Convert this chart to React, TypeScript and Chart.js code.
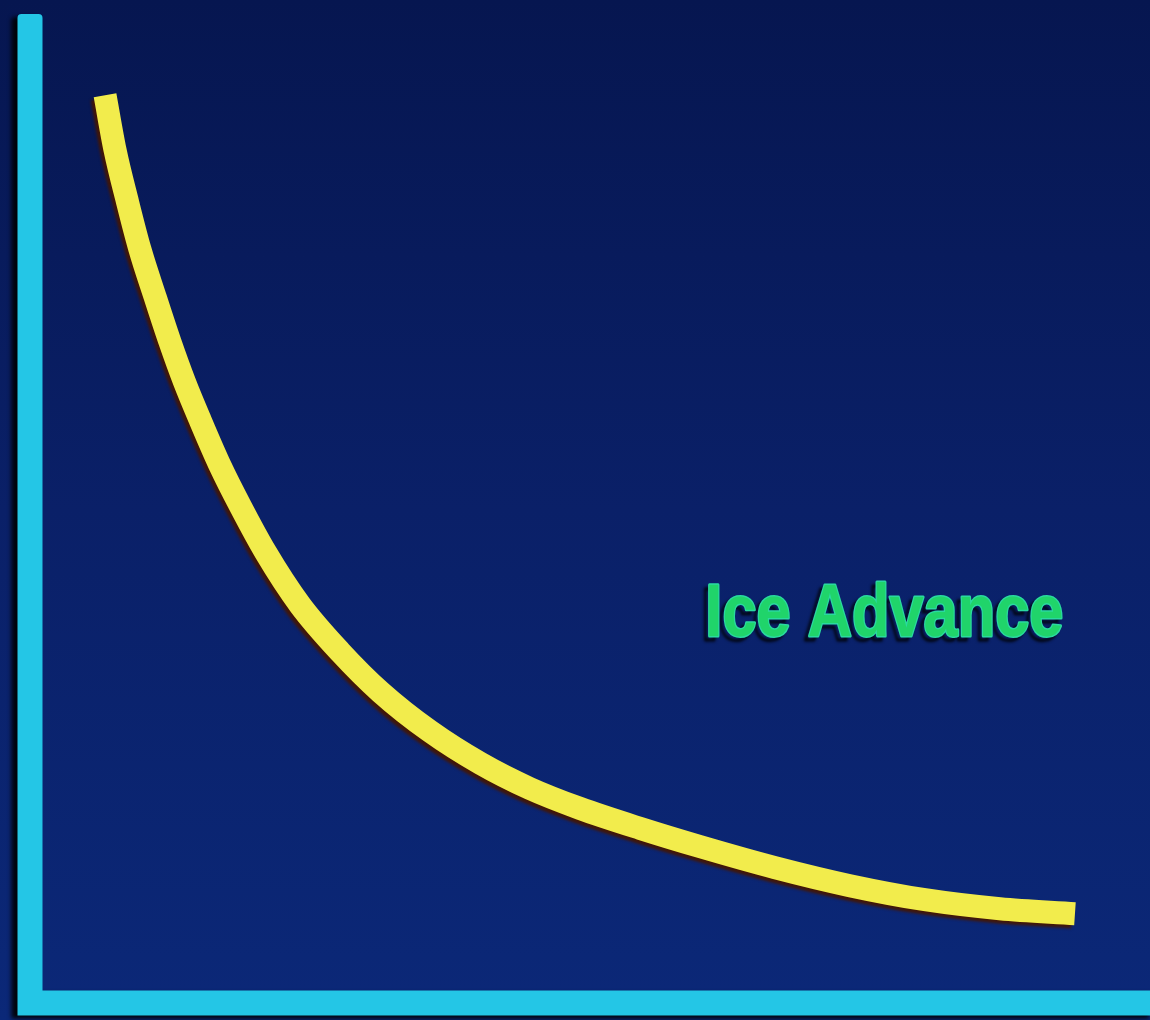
import React, { useEffect, useRef } from "react";
import { Chart, registerables } from "chart.js";

Chart.register(...registerables);

// Data (abstract units: time on x, ice extent on y, both 0..100)
const timeValues = [
  6.7, 7.6, 8.7, 9.8, 11.2, 12.5, 13.8, 15.2, 17.0, 18.8, 21.0, 24.1, 27.7,
  31.3, 35.7, 40.2, 44.6, 49.1, 54.5, 59.8, 66.5, 73.2, 79.9, 86.6, 93.3,
];
const iceValues = [
  90.5, 85.0, 79.9, 75.2, 70.3, 65.9, 61.9, 58.1, 53.5, 49.5, 45.0, 39.7, 35.0,
  31.0, 27.1, 23.9, 21.4, 19.4, 17.4, 15.6, 13.5, 11.7, 10.3, 9.4, 8.9,
];
const seriesLabel = "Ice Advance";

const W = 1150;
const H = 1020;

const backgroundPlugin = {
  id: "slideBackground",
  beforeDraw(chart: any) {
    const { ctx } = chart;
    ctx.save();
    const g = ctx.createLinearGradient(0, 0, 0, chart.height);
    g.addColorStop(0, "#061650");
    g.addColorStop(0.5, "#0a2068");
    g.addColorStop(1, "#0b2878");
    ctx.fillStyle = g;
    ctx.fillRect(0, 0, chart.width, chart.height);
    ctx.restore();
  },
};

const axesPlugin = {
  id: "cyanAxes",
  beforeDatasetsDraw(chart: any) {
    const { ctx } = chart;
    const xs = chart.scales.x;
    const ys = chart.scales.y;
    const x0 = xs.getPixelForValue(0);
    const y0 = ys.getPixelForValue(0);
    const yTop = ys.getPixelForValue(98.6);
    const half = 12.5;
    ctx.save();
    ctx.shadowColor = "rgba(0,0,0,0.9)";
    ctx.shadowOffsetX = -6;
    ctx.shadowOffsetY = 3;
    ctx.shadowBlur = 4;
    ctx.fillStyle = "#24c6e6";
    ctx.beginPath();
    const r = 4;
    ctx.moveTo(x0 - half, yTop + r);
    ctx.quadraticCurveTo(x0 - half, yTop, x0 - half + r, yTop);
    ctx.lineTo(x0 + half - r, yTop);
    ctx.quadraticCurveTo(x0 + half, yTop, x0 + half, yTop + r);
    ctx.lineTo(x0 + half, y0 - half);
    ctx.lineTo(chart.width + 5, y0 - half);
    ctx.lineTo(chart.width + 5, y0 + half);
    ctx.lineTo(x0 - half, y0 + half);
    ctx.closePath();
    ctx.fill();
    ctx.restore();
  },
};

const lineShadowPlugin = {
  id: "lineShadow",
  beforeDatasetDraw(chart: any) {
    const { ctx } = chart;
    ctx.save();
    ctx.shadowColor = "rgba(70,22,0,0.95)";
    ctx.shadowOffsetX = -3;
    ctx.shadowOffsetY = 3;
    ctx.shadowBlur = 3;
  },
  afterDatasetDraw(chart: any) {
    chart.ctx.restore();
  },
};

const labelPlugin = {
  id: "seriesLabel",
  afterDatasetsDraw(chart: any) {
    const { ctx } = chart;
    const xs = chart.scales.x;
    const ys = chart.scales.y;
    const px = xs.getPixelForValue(60.3);
    const py = ys.getPixelForValue(36.6);
    const targetWidth = 358;
    ctx.save();
    ctx.font = "bold 74px 'Liberation Sans', Arial, sans-serif";
    ctx.textBaseline = "alphabetic";
    ctx.textAlign = "left";
    const w = ctx.measureText(seriesLabel).width;
    const sx = targetWidth / w;
    ctx.translate(px, py);
    ctx.scale(sx, 1);
    ctx.shadowColor = "rgba(0,0,0,0.9)";
    ctx.shadowOffsetX = -4;
    ctx.shadowOffsetY = 4;
    ctx.shadowBlur = 3;
    ctx.lineJoin = "round";
    ctx.lineWidth = 3;
    ctx.strokeStyle = "#2ad9a0";
    ctx.strokeText(seriesLabel, 0, 0);
    ctx.shadowColor = "transparent";
    ctx.fillStyle = "#20d46a";
    ctx.fillText(seriesLabel, 0, 0);
    ctx.restore();
  },
};

export default function App() {
  const canvasRef = useRef<HTMLCanvasElement | null>(null);

  useEffect(() => {
    const canvas = canvasRef.current;
    if (!canvas) return;
    const chart = new Chart(canvas, {
      type: "line",
      data: {
        datasets: [
          {
            label: seriesLabel,
            data: timeValues.map((t, i) => ({ x: t, y: iceValues[i] })),
            borderColor: "#f2ec4c",
            borderWidth: 23,
            borderCapStyle: "butt",
            borderJoinStyle: "round",
            cubicInterpolationMode: "monotone",
            pointRadius: 0,
            fill: false,
          },
        ],
      },
      options: {
        animation: false,
        responsive: false,
        devicePixelRatio: 1,
        layout: { padding: { left: 30, right: 0, top: 0, bottom: 17 } },
        plugins: {
          legend: { display: false },
          tooltip: { enabled: false },
          title: { display: false },
        },
        scales: {
          x: { type: "linear", min: 0, max: 100, display: false },
          y: { type: "linear", min: 0, max: 100, display: false },
        },
      },
      plugins: [backgroundPlugin, axesPlugin, lineShadowPlugin, labelPlugin],
    });
    return () => chart.destroy();
  }, []);

  return (
    <div style={{ position: "absolute", left: 0, top: 0, width: W, height: H }}>
      <canvas ref={canvasRef} width={W} height={H} style={{ display: "block" }} />
    </div>
  );
}
